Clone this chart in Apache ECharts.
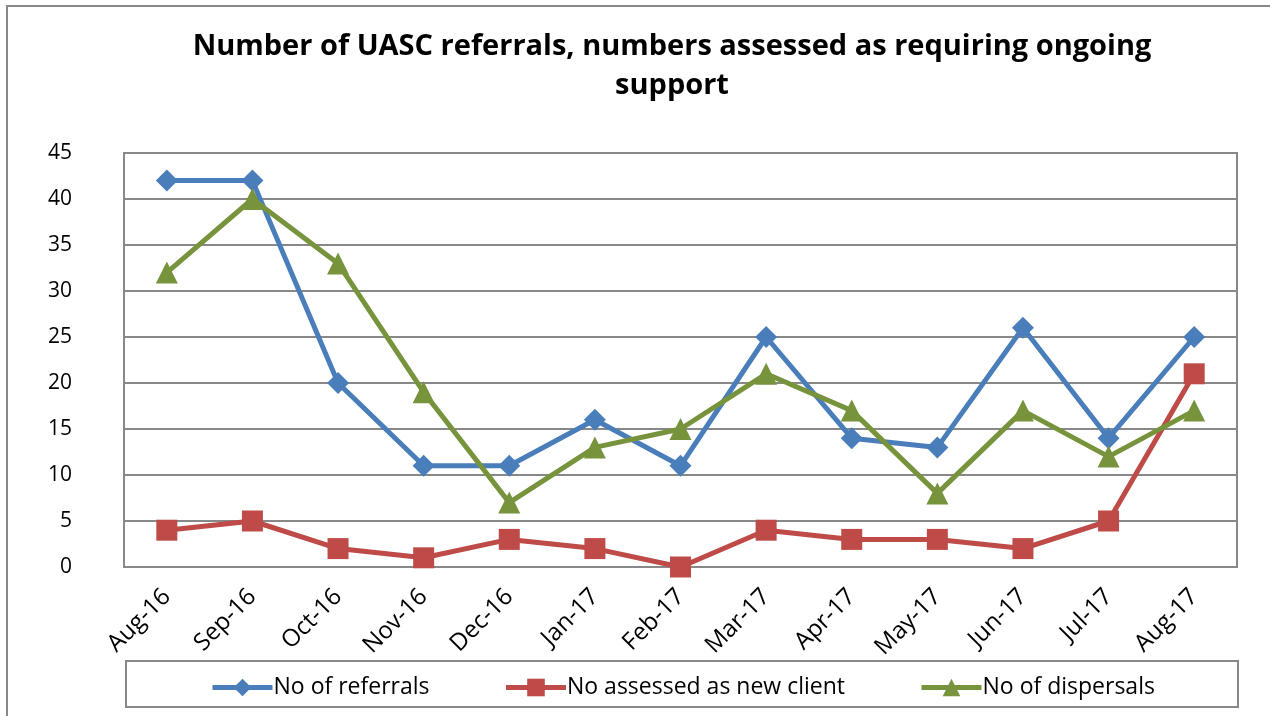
<!DOCTYPE html>
<html>
<head>
<meta charset="utf-8">
<script src="https://cdn.jsdelivr.net/npm/echarts@6/dist/echarts.min.js"></script>
<style>
  html, body { margin: 0; padding: 0; background: #fff; }
  #main { width: 1270px; height: 716px; }
</style>
</head>
<body>
<div id="main"></div>
<script>
var months = ['Aug-16', 'Sep-16', 'Oct-16', 'Nov-16', 'Dec-16', 'Jan-17', 'Feb-17',
  'Mar-17', 'Apr-17', 'May-17', 'Jun-17', 'Jul-17', 'Aug-17'];
var referrals = [42, 42, 20, 11, 11, 16, 11, 25, 14, 13, 26, 14, 25];
var assessed = [4, 5, 2, 1, 3, 2, 0, 4, 3, 3, 2, 5, 21];
var dispersals = [32, 40, 33, 19, 7, 13, 15, 21, 17, 8, 17, 12, 17];

var FONT = '"Liberation Sans Narrow", "Open Sans", sans-serif';

var myChart = echarts.init(document.getElementById('main'));
var option = {
  backgroundColor: '#fff',
  textStyle: { fontFamily: FONT },
  title: {
    text: 'Number of UASC referrals, numbers assessed as requiring ongoing\nsupport',
    left: 667,
    top: 22,
    textAlign: 'center',
    textStyle: { fontSize: 29, fontWeight: 'bold', color: '#000', lineHeight: 39, fontFamily: FONT }
  },
  graphic: [
    { type: 'rect', shape: { x: 7, y: 6, width: 1280, height: 730 },
      style: { fill: null, stroke: '#888', lineWidth: 2 }, silent: true },
    { type: 'rect', shape: { x: 126, y: 661, width: 1112, height: 46 },
      style: { fill: null, stroke: '#888', lineWidth: 2 }, silent: true }
  ],
  legend: {
    left: 205,
    top: 671,
    itemWidth: 60,
    itemHeight: 22,
    itemGap: 74,
    lineStyle: { width: 5 },
    textStyle: { fontSize: 23, color: '#000', fontFamily: FONT, padding: [0, 0, 0, -4] },
    data: ['No of referrals', 'No assessed as new client', 'No of dispersals']
  },
  grid: {
    left: 124, right: 33, top: 153, bottom: 149,
    show: true, borderColor: '#888', borderWidth: 2
  },
  xAxis: {
    type: 'category',
    data: months,
    boundaryGap: true,
    axisLine: { lineStyle: { color: '#888', width: 2 } },
    axisTick: { show: false },
    axisLabel: { rotate: 45, fontSize: 24, color: '#000', margin: 26, fontFamily: FONT },
    splitLine: { show: false }
  },
  yAxis: {
    type: 'value',
    min: 0,
    max: 45,
    interval: 5,
    axisLine: { show: true, lineStyle: { color: '#888', width: 2 } },
    axisTick: { show: false },
    axisLabel: { fontSize: 21, color: '#000', margin: 52, align: 'right', fontFamily: FONT },
    splitLine: { lineStyle: { color: '#888', width: 2 } }
  },
  series: [
    {
      name: 'No of referrals',
      type: 'line',
      data: referrals,
      symbol: 'diamond',
      symbolSize: 22,
      color: '#4A7EBB',
      lineStyle: { width: 5 },
      z: 3
    },
    {
      name: 'No assessed as new client',
      type: 'line',
      data: assessed,
      symbol: 'rect',
      symbolSize: 21,
      color: '#BE4B48',
      lineStyle: { width: 5 },
      z: 4
    },
    {
      name: 'No of dispersals',
      type: 'line',
      data: dispersals,
      symbol: 'triangle',
      symbolSize: 22,
      color: '#77933C',
      lineStyle: { width: 5 },
      z: 5
    }
  ]
};
option && myChart.setOption(option);
</script>
</body>
</html>
